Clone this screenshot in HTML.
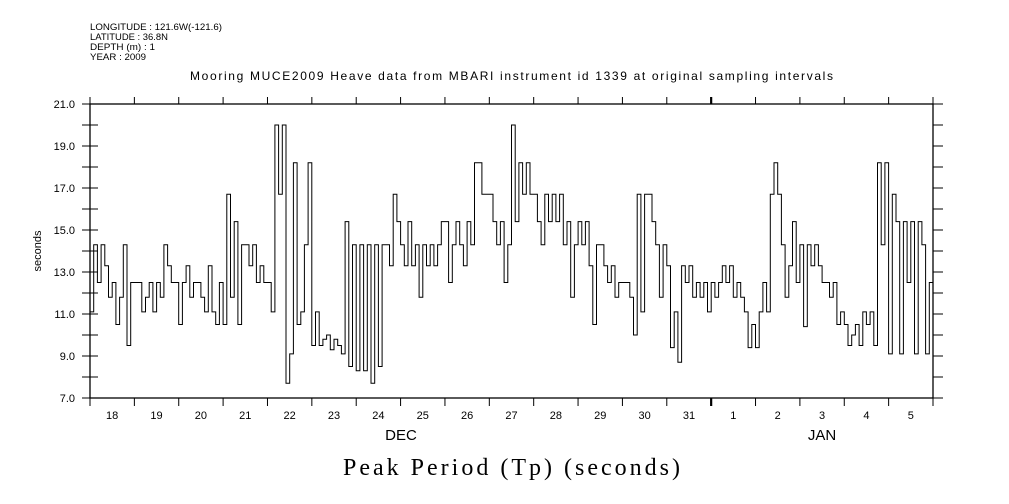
<!DOCTYPE html>
<html><head><meta charset="utf-8"><style>
html,body{margin:0;padding:0;background:#fff;}
svg{display:block;font-family:"Liberation Sans",sans-serif;}
</style></head><body>
<svg id="chart" width="1009" height="504" viewBox="0 0 1009 504" xmlns="http://www.w3.org/2000/svg">
<g font-size="9" fill="#000">
<text x="90" y="30" textLength="132" lengthAdjust="spacingAndGlyphs">LONGITUDE : 121.6W(-121.6)</text>
<text x="90" y="40" textLength="78" lengthAdjust="spacingAndGlyphs">LATITUDE : 36.8N</text>
<text x="90" y="50" textLength="65" lengthAdjust="spacingAndGlyphs">DEPTH (m) : 1</text>
<text x="90" y="60" textLength="56" lengthAdjust="spacingAndGlyphs">YEAR : 2009</text>
</g>
<text x="190" y="80" font-size="12" textLength="643" lengthAdjust="spacing">Mooring MUCE2009 Heave data from MBARI instrument id 1339 at original sampling intervals</text>
<text transform="translate(41,251) rotate(-90)" font-size="11" text-anchor="middle">seconds</text>
<text x="343" y="475" font-family="Liberation Serif,serif" font-size="24" textLength="337" lengthAdjust="spacing">Peak Period (Tp) (seconds)</text>
<text x="401" y="440" font-size="15" text-anchor="middle">DEC</text>
<text x="822" y="440" font-size="15" text-anchor="middle">JAN</text>
<rect x="90" y="104" width="843" height="294" fill="none" stroke="#000" stroke-width="1.3"/>
<g id="axes"></g>
<path id="series" fill="none" stroke="#000" stroke-width="1"/>
</svg>
<script>
const dayLabels = ["18","19","20","21","22","23","24","25","26","27","28","29","30","31","1","2","3","4","5"];
const yTicks = [7,9,11,13,15,17,19,21];
const tpValues = [
11.1,14.3,12.5,14.3,13.3,11.8,12.5,10.5,11.8,14.3,9.5,12.5,
12.5,12.5,11.1,11.8,12.5,11.1,12.5,11.8,14.3,13.3,12.5,12.5,
10.5,12.5,13.3,11.8,12.5,12.5,11.8,11.1,13.3,11.1,10.5,12.5,
10.5,16.7,11.8,15.4,10.5,14.3,14.3,13.3,14.3,12.5,13.3,12.5,
12.5,11.1,20.0,16.7,20.0,7.7,9.1,18.2,10.5,11.1,14.3,18.2,
9.5,11.1,9.5,9.8,10.0,9.3,9.8,9.5,9.1,15.4,8.5,14.3,
8.3,14.3,8.3,14.3,7.7,14.3,8.5,14.3,14.3,13.3,16.7,15.4,
14.3,13.3,15.4,13.3,14.3,11.8,14.3,13.3,14.3,13.3,14.3,15.4,
15.4,12.5,14.3,15.4,14.3,13.3,15.4,14.3,18.2,18.2,16.7,16.7,
16.7,15.4,14.3,15.4,12.5,14.3,20.0,15.4,18.2,16.7,18.2,16.7,
16.7,15.4,14.3,16.7,15.4,16.7,15.4,16.7,14.3,15.4,11.8,14.3,
15.4,14.3,15.4,13.3,10.5,14.3,14.3,13.3,12.5,13.3,11.8,12.5,
12.5,12.5,11.8,10.0,16.7,11.1,16.7,16.7,15.4,14.3,11.8,14.3,
13.3,9.4,11.1,8.7,13.3,12.5,13.3,11.8,12.5,11.8,12.5,11.1,
12.5,11.8,12.5,13.3,12.5,13.3,11.8,12.5,11.8,11.1,9.4,10.5,
9.4,11.1,12.5,11.1,16.7,18.2,16.7,14.3,11.8,13.3,15.4,12.5,
14.3,10.4,14.3,13.3,14.3,13.3,12.5,12.5,11.8,12.5,10.5,11.1,
10.5,9.5,10.0,10.5,9.5,11.1,10.5,11.1,9.5,18.2,14.3,18.2,
9.1,16.7,15.4,9.1,15.4,12.5,15.4,9.1,15.4,14.3,9.1,12.5
];
const X0=90,X1=933,Y0=398,Y1=104,VMIN=7,VMAX=21;
const nDays = dayLabels.length;
const xDay = d => X0 + (X1-X0)*d/nDays;
const yVal = v => Y0 - (v-VMIN)*(Y0-Y1)/(VMAX-VMIN);
const NS="http://www.w3.org/2000/svg";
const axes=document.getElementById('axes');
function mk(tag,attrs){const e=document.createElementNS(NS,tag);for(const k in attrs)e.setAttribute(k,attrs[k]);axes.appendChild(e);return e;}
for(let v=VMIN; v<=VMAX; v++){
  const y=yVal(v);
  const t=mk('line',{x1:82,x2:98,y1:y,y2:y,stroke:'#000','stroke-width':1});
  
  
  const r=mk('line',{x1:X1,x2:943,y1:y,y2:y,stroke:'#000','stroke-width':1});
  
  
}
yTicks.forEach(v=>{
  const t=mk('text',{x:75,y:yVal(v)+4,'font-size':11,'text-anchor':'end'});
  t.textContent=v.toFixed(1);
  
  
});
for(let d=0; d<=nDays; d++){
  const x=xDay(d);
  const w = (d===14)?2.2:1;
  const b=mk('line',{x1:x,x2:x,y1:Y0,y2:406,stroke:'#000','stroke-width':w});
  
  
  const t=mk('line',{x1:x,x2:x,y1:97,y2:Y1,stroke:'#000','stroke-width':w});
  
  
}
dayLabels.forEach((lab,i)=>{
  const t=mk('text',{x:xDay(i+0.5),y:419,'font-size':11,'text-anchor':'middle'});
  t.textContent=lab;
  
  
});
const perDay = tpValues.length/nDays;
let dPath='';
tpValues.forEach((v,i)=>{
  const x=xDay(i/perDay), y=yVal(v);
  if(i===0) dPath+=`M${x.toFixed(1)},${y.toFixed(1)}`;
  else dPath+=`H${x.toFixed(1)}V${y.toFixed(1)}`;
});
dPath+=`H${xDay(nDays).toFixed(1)}`;
document.getElementById('series').setAttribute('d',dPath);
</script>
</body></html>
